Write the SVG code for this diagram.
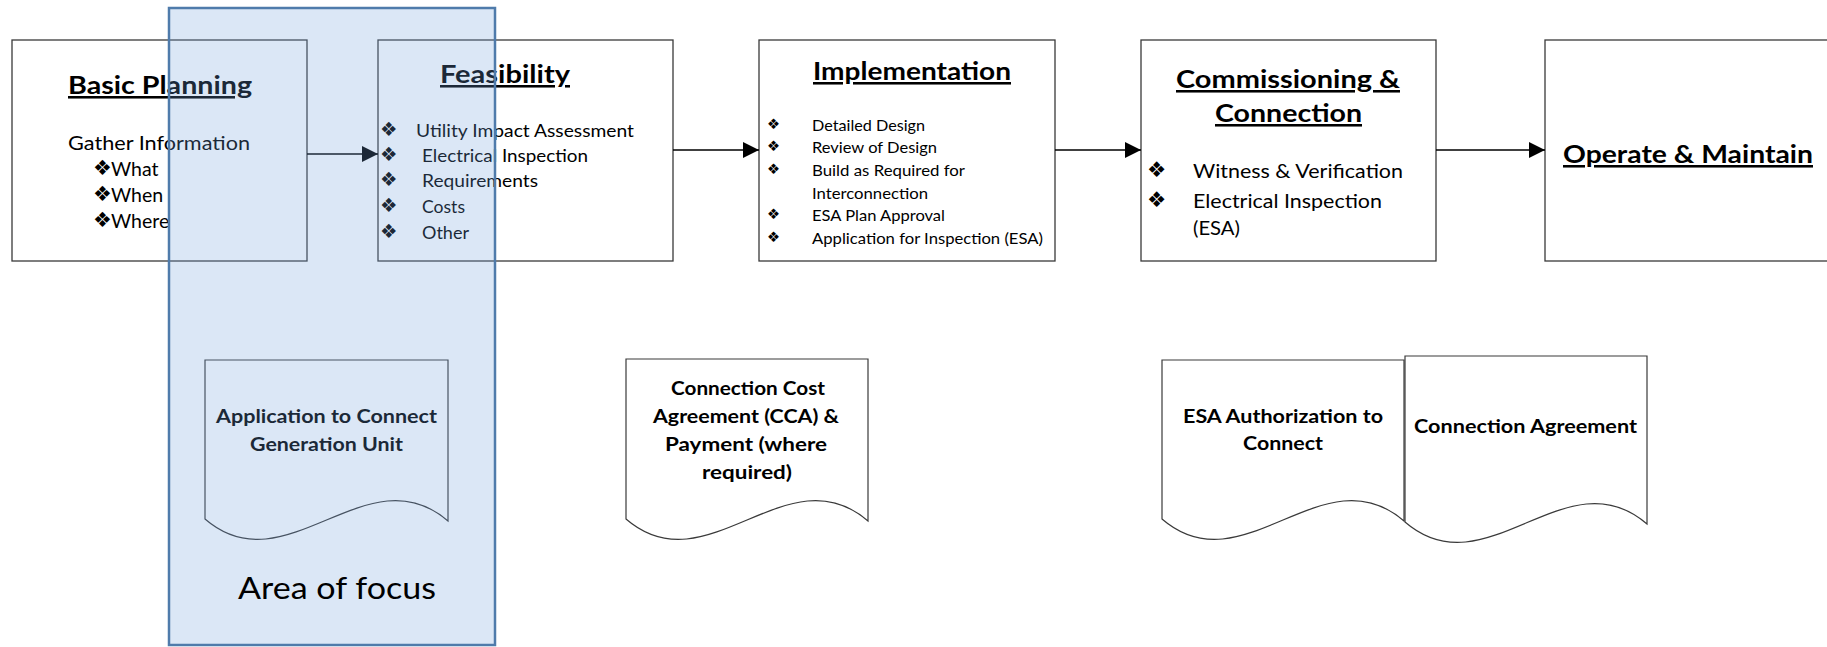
<svg xmlns="http://www.w3.org/2000/svg" width="1827" height="647" viewBox="0 0 1827 647">
<style>
  .box { fill: #ffffff; stroke: #3a3a3a; stroke-width: 1.3; }
  .doc { fill: #ffffff; stroke: #3a3a3a; stroke-width: 1.2; }
  .conn { stroke: #000000; stroke-width: 1.6; fill: none; }
  text { font-family: Lato, "Liberation Sans", Arial, sans-serif; fill: #000000; }
  .title { font-weight: bold; font-size: 25.5px; text-decoration: underline; }
  .doct { font-weight: bold; font-size: 18px; text-anchor: middle; }
  .b { font-family: "DejaVu Sans", sans-serif; }
  .focus { fill: #6fa0dc; fill-opacity: 0.25; stroke: #4f7bab; stroke-width: 2.5; }
</style>
<defs>
  <marker id="arrow" markerUnits="userSpaceOnUse" markerWidth="17" markerHeight="17" refX="16" refY="8" orient="auto">
    <path d="M0,0 L16,8 L0,16 Z" fill="#000000"/>
  </marker>
</defs>
<rect x="0" y="0" width="1827" height="647" fill="#ffffff"/>

<g id="basic-planning">
  <rect class="box" x="12" y="40" width="295" height="221"/>
  <text class="title" x="68" y="94" textLength="184" lengthAdjust="spacingAndGlyphs">Basic Planning</text>
  <text x="68" y="150" font-size="19.5" textLength="182" lengthAdjust="spacingAndGlyphs">Gather Information</text>
  <text class="b" x="93" y="175" font-size="21">❖</text>
  <text x="111" y="176" font-size="19.5">What</text>
  <text class="b" x="93" y="201" font-size="21">❖</text>
  <text x="111" y="202" font-size="19.5">When</text>
  <text class="b" x="93" y="227" font-size="21">❖</text>
  <text x="111" y="228" font-size="19.5">Where</text>
</g>

<g id="feasibility">
  <rect class="box" x="378" y="40" width="295" height="221"/>
  <text class="title" x="440" y="83" textLength="130" lengthAdjust="spacingAndGlyphs">Feasibility</text>
  <g font-size="17.5">
    <text class="b" x="380" y="136" font-size="19.5">❖</text>
    <text x="416" y="137" textLength="218" lengthAdjust="spacingAndGlyphs">Utility Impact Assessment</text>
    <text class="b" x="380" y="161" font-size="19.5">❖</text>
    <text x="422" y="162" textLength="166" lengthAdjust="spacingAndGlyphs">Electrical Inspection</text>
    <text class="b" x="380" y="186" font-size="19.5">❖</text>
    <text x="422" y="187" textLength="116" lengthAdjust="spacingAndGlyphs">Requirements</text>
    <text class="b" x="380" y="212" font-size="19.5">❖</text>
    <text x="422" y="213" textLength="43" lengthAdjust="spacingAndGlyphs">Costs</text>
    <text class="b" x="380" y="238" font-size="19.5">❖</text>
    <text x="422" y="239" textLength="47" lengthAdjust="spacingAndGlyphs">Other</text>
  </g>
</g>

<g id="implementation">
  <rect class="box" x="759" y="40" width="296" height="221"/>
  <text class="title" x="813" y="80" textLength="198" lengthAdjust="spacingAndGlyphs">Implementation</text>
  <g font-size="15">
    <text class="b" x="767" y="129" font-size="14.5">❖</text>
    <text x="812" y="131" textLength="113" lengthAdjust="spacingAndGlyphs">Detailed Design</text>
    <text class="b" x="767" y="151" font-size="14.5">❖</text>
    <text x="812" y="153" textLength="125" lengthAdjust="spacingAndGlyphs">Review of Design</text>
    <text class="b" x="767" y="174" font-size="14.5">❖</text>
    <text x="812" y="176" textLength="153" lengthAdjust="spacingAndGlyphs">Build as Required for</text>
    <text x="812" y="199" textLength="116" lengthAdjust="spacingAndGlyphs">Interconnection</text>
    <text class="b" x="767" y="219" font-size="14.5">❖</text>
    <text x="812" y="221" textLength="133" lengthAdjust="spacingAndGlyphs">ESA Plan Approval</text>
    <text class="b" x="767" y="242" font-size="14.5">❖</text>
    <text x="812" y="244" textLength="231" lengthAdjust="spacingAndGlyphs">Application for Inspection (ESA)</text>
  </g>
</g>

<g id="commissioning">
  <rect class="box" x="1141" y="40" width="295" height="221"/>
  <text class="title" x="1176" y="88" textLength="224" lengthAdjust="spacingAndGlyphs">Commissioning &amp;</text>
  <text class="title" x="1215" y="122" textLength="147" lengthAdjust="spacingAndGlyphs">Connection</text>
  <g font-size="18.5">
    <text class="b" x="1147" y="177" font-size="21.5">❖</text>
    <text x="1193" y="178" textLength="210" lengthAdjust="spacingAndGlyphs">Witness &amp; Verification</text>
    <text class="b" x="1147" y="207" font-size="21.5">❖</text>
    <text x="1193" y="208" textLength="189" lengthAdjust="spacingAndGlyphs">Electrical Inspection</text>
    <text x="1193" y="235" textLength="47" lengthAdjust="spacingAndGlyphs">(ESA)</text>
  </g>
</g>

<g id="operate-maintain">
  <rect class="box" x="1545" y="40" width="300" height="221"/>
  <text class="title" x="1563" y="163" textLength="250" lengthAdjust="spacingAndGlyphs">Operate &amp; Maintain</text>
</g>

<g id="connectors">
  <line class="conn" x1="307" y1="154" x2="378" y2="154" marker-end="url(#arrow)"/>
  <line class="conn" x1="673" y1="150" x2="759" y2="150" marker-end="url(#arrow)"/>
  <line class="conn" x1="1055" y1="150" x2="1141" y2="150" marker-end="url(#arrow)"/>
  <line class="conn" x1="1436" y1="150" x2="1545" y2="150" marker-end="url(#arrow)"/>
</g>

<g id="doc-application">
  <path class="doc" d="M205,360 H448 V521 C367,451 286,589 205,519 Z"/>
  <text class="doct" x="326.5" y="423" textLength="221" lengthAdjust="spacingAndGlyphs">Application to Connect</text>
  <text class="doct" x="326.5" y="451" textLength="153" lengthAdjust="spacingAndGlyphs">Generation Unit</text>
</g>

<g id="doc-cca">
  <path class="doc" d="M626,359 H868 V521 C787,451 707,589 626,519 Z"/>
  <text class="doct" x="748" y="395" textLength="154" lengthAdjust="spacingAndGlyphs">Connection Cost</text>
  <text class="doct" x="746" y="423" textLength="186" lengthAdjust="spacingAndGlyphs">Agreement (CCA) &amp;</text>
  <text class="doct" x="746" y="451" textLength="162" lengthAdjust="spacingAndGlyphs">Payment (where</text>
  <text class="doct" x="747" y="479" textLength="90" lengthAdjust="spacingAndGlyphs">required)</text>
</g>

<g id="doc-esa">
  <path class="doc" d="M1162,360 H1404 V521 C1323,451 1243,589 1162,519 Z"/>
  <text class="doct" x="1283" y="423" textLength="200" lengthAdjust="spacingAndGlyphs">ESA Authorization to</text>
  <text class="doct" x="1283" y="450" textLength="80" lengthAdjust="spacingAndGlyphs">Connect</text>
</g>

<g id="doc-connection-agreement">
  <path class="doc" d="M1405,356 H1647 V524 C1566,454 1486,592 1405,522 Z"/>
  <text class="doct" x="1525.5" y="433" textLength="223" lengthAdjust="spacingAndGlyphs">Connection Agreement</text>
</g>

<g id="area-of-focus">
  <rect class="focus" x="169" y="8" width="326" height="637"/>
  <text x="238" y="599" font-size="31" textLength="198" lengthAdjust="spacingAndGlyphs">Area of focus</text>
</g>
</svg>
